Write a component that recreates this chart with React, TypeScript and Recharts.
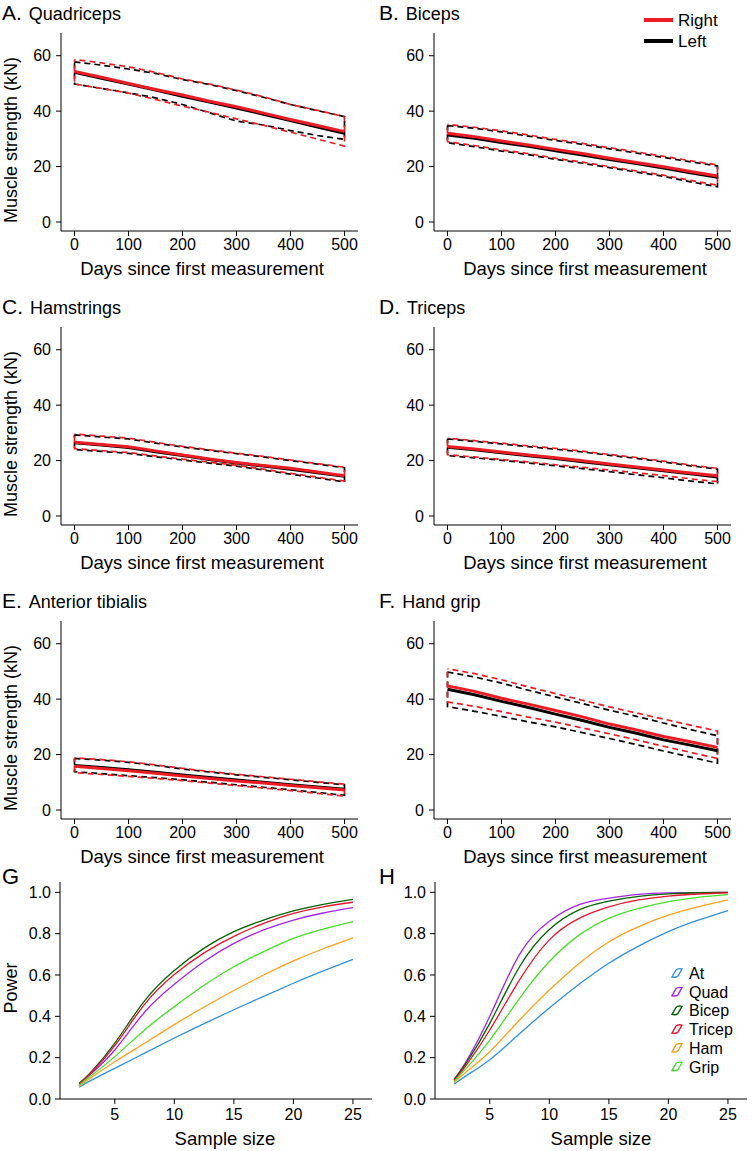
import React from 'react';
import { LineChart, Line, XAxis, YAxis } from 'recharts';

const FONT = '"Liberation Sans", Arial, Helvetica, sans-serif';
const RED = '#ec1c24';
const BLACK = '#000000';

// ---------- Strength panels (A–F) ----------
const days = [0, 50, 100, 150, 200, 250, 300, 350, 400, 450, 500];
const dayTicks = [0, 100, 200, 300, 400, 500];
const strengthTicks = [0, 20, 40, 60];

const quadRight = [54.3, 52.2, 50.0, 47.8, 45.8, 43.6, 41.6, 39.3, 37.0, 34.8, 32.6];
const quadLeft = [54.0, 51.9, 49.8, 47.6, 45.4, 43.3, 41.1, 38.9, 36.6, 34.3, 32.0];
const quadRightHi = [58.6, 57.4, 56.0, 54.0, 51.6, 49.8, 47.6, 45.2, 42.4, 40.3, 38.0];
const quadRightLo = [49.8, 48.2, 46.5, 44.2, 41.8, 39.6, 37.2, 34.9, 32.4, 29.9, 27.4];
const quadLeftHi = [57.8, 56.6, 55.2, 53.6, 51.4, 49.6, 47.4, 45.0, 42.4, 40.2, 38.0];
const quadLeftLo = [49.8, 48.2, 46.6, 44.8, 42.4, 39.4, 36.4, 35.0, 33.0, 31.2, 29.8];

const biRight = [32.0, 30.8, 29.2, 27.8, 26.2, 24.7, 23.0, 21.5, 19.9, 18.2, 16.6];
const biLeft = [31.4, 30.2, 28.7, 27.3, 25.7, 24.2, 22.5, 21.1, 19.5, 17.8, 16.1];
const biRightHi = [35.2, 34.2, 32.9, 31.4, 29.8, 28.4, 26.8, 25.3, 23.7, 22.1, 20.6];
const biRightLo = [29.0, 27.6, 26.0, 24.7, 23.0, 21.6, 20.0, 18.4, 16.9, 15.0, 13.3];
const biLeftHi = [34.8, 33.8, 32.5, 31.0, 29.4, 28.0, 26.4, 24.9, 23.3, 21.7, 20.2];
const biLeftLo = [28.6, 27.2, 25.6, 24.3, 22.6, 21.2, 19.6, 18.0, 16.5, 14.5, 12.7];

const hamRight = [26.6, 25.8, 25.0, 23.5, 22.0, 20.6, 19.3, 18.2, 17.2, 15.9, 14.5];
const hamLeft = [26.4, 25.6, 24.7, 23.2, 21.8, 20.4, 19.1, 18.0, 16.9, 15.6, 14.3];
const hamRightHi = [29.6, 28.8, 28.1, 26.6, 25.1, 23.9, 22.7, 21.5, 20.2, 18.9, 17.6];
const hamRightLo = [24.3, 23.6, 22.9, 21.7, 20.5, 19.4, 18.3, 16.9, 15.4, 14.0, 12.6];
const hamLeftHi = [29.3, 28.5, 27.8, 26.3, 24.9, 23.7, 22.5, 21.3, 20.0, 18.7, 17.4];
const hamLeftLo = [24.0, 23.3, 22.6, 21.4, 20.2, 19.1, 18.0, 16.6, 15.1, 13.7, 12.3];

const triRight = [25.1, 24.2, 23.1, 22.0, 21.0, 19.9, 18.8, 17.7, 16.6, 15.5, 14.5];
const triLeft = [24.8, 23.9, 22.8, 21.7, 20.7, 19.6, 18.5, 17.4, 16.3, 15.2, 14.1];
const triRightHi = [28.1, 27.2, 26.3, 25.3, 24.4, 23.4, 22.2, 21.1, 19.8, 18.4, 17.2];
const triRightLo = [22.1, 21.3, 20.4, 19.5, 18.5, 17.6, 16.6, 15.6, 14.6, 13.4, 12.4];
const triLeftHi = [27.8, 26.9, 26.0, 25.0, 24.1, 23.1, 21.9, 20.8, 19.5, 18.1, 16.9];
const triLeftLo = [21.8, 21.0, 20.1, 19.1, 18.1, 17.1, 16.0, 14.9, 13.8, 12.6, 11.6];

const atRight = [15.8, 15.0, 14.2, 13.3, 12.3, 11.4, 10.5, 9.7, 8.8, 8.0, 7.2];
const atLeft = [16.1, 15.3, 14.5, 13.6, 12.6, 11.7, 10.8, 10.0, 9.1, 8.3, 7.5];
const atRightHi = [18.8, 18.2, 17.4, 16.3, 15.0, 13.9, 12.9, 12.0, 11.1, 10.2, 9.3];
const atRightLo = [13.5, 12.8, 12.1, 11.4, 10.6, 9.7, 8.8, 7.9, 7.0, 6.0, 5.0];
const atLeftHi = [18.6, 18.0, 17.2, 16.1, 14.8, 13.7, 12.7, 11.8, 10.9, 10.0, 9.1];
const atLeftLo = [13.8, 13.1, 12.4, 11.7, 10.9, 10.0, 9.1, 8.2, 7.3, 6.3, 5.3];

const gripRight = [44.8, 42.8, 40.3, 38.2, 35.9, 33.6, 31.0, 28.9, 26.5, 24.6, 22.6];
const gripLeft = [43.6, 41.6, 39.2, 37.0, 34.6, 32.3, 29.8, 27.7, 25.3, 23.4, 21.4];
const gripRightHi = [51.0, 49.2, 47.0, 44.4, 42.0, 39.6, 37.2, 35.0, 32.8, 30.6, 28.5];
const gripRightLo = [39.0, 37.4, 35.5, 33.5, 31.7, 29.6, 27.5, 25.3, 23.0, 20.8, 18.6];
const gripLeftHi = [49.8, 48.0, 45.8, 43.2, 40.8, 38.4, 36.0, 33.8, 31.4, 29.0, 26.8];
const gripLeftLo = [37.3, 35.6, 33.8, 31.8, 30.0, 27.9, 25.8, 23.6, 21.3, 19.1, 16.9];

// ---------- Power panels (G, H) ----------
const sampleSizes = [2, 3, 5, 7.5, 10, 12.5, 15, 17.5, 20, 22.5, 25];
const sampleTicks = [5, 10, 15, 20, 25];
const powerTicks = [0, 0.2, 0.4, 0.6, 0.8, 1.0];

const gAt = [0.057, 0.09, 0.148, 0.222, 0.295, 0.365, 0.432, 0.497, 0.56, 0.62, 0.676];
const gQuad = [0.07, 0.122, 0.237, 0.42, 0.555, 0.665, 0.753, 0.818, 0.866, 0.9, 0.926];
const gBicep = [0.076, 0.13, 0.27, 0.475, 0.622, 0.73, 0.81, 0.866, 0.91, 0.942, 0.966];
const gTricep = [0.072, 0.126, 0.258, 0.458, 0.602, 0.707, 0.787, 0.85, 0.898, 0.93, 0.952];
const gHam = [0.062, 0.103, 0.18, 0.27, 0.36, 0.445, 0.525, 0.6, 0.668, 0.727, 0.78];
const gGrip = [0.066, 0.112, 0.205, 0.334, 0.447, 0.55, 0.64, 0.713, 0.777, 0.822, 0.858];

const hAt = [0.071, 0.112, 0.19, 0.316, 0.44, 0.555, 0.657, 0.74, 0.81, 0.865, 0.912];
const hQuad = [0.095, 0.18, 0.4, 0.7, 0.86, 0.94, 0.972, 0.99, 0.997, 0.999, 1.0];
const hBicep = [0.092, 0.172, 0.366, 0.64, 0.82, 0.915, 0.957, 0.98, 0.993, 0.998, 1.0];
const hTricep = [0.089, 0.162, 0.334, 0.576, 0.77, 0.874, 0.93, 0.963, 0.982, 0.992, 0.998];
const hHam = [0.079, 0.13, 0.229, 0.382, 0.527, 0.656, 0.76, 0.834, 0.89, 0.93, 0.963];
const hGrip = [0.084, 0.147, 0.285, 0.487, 0.665, 0.793, 0.874, 0.922, 0.955, 0.976, 0.989];

const muscleNames = ['At', 'Quad', 'Bicep', 'Tricep', 'Ham', 'Grip'];
const muscleColors = ['#2f8fe0', '#a424ee', '#006400', '#e8122e', '#ffa11a', '#47e02a'];

const tickStyle = { fill: '#000', fontSize: 16, fontFamily: FONT };
const axisLineStyle = { stroke: '#000', strokeWidth: 1 };

const toPoints = (xs: number[], ys: number[]) => xs.map((x, i) => ({ x, y: ys[i] }));
const bandOutline = (lo: number[], hi: number[]) => [
  ...toPoints(days, hi),
  ...toPoints(days, lo).reverse(),
  { x: days[0], y: hi[0] },
];

type StrengthProps = {
  col: number; row: number;
  right: number[]; left: number[];
  rightHi: number[]; rightLo: number[];
  leftHi: number[]; leftLo: number[];
};

function StrengthPanel(p: StrengthProps) {
  return (
    <div style={{ position: 'absolute', left: p.col * 373, top: p.row * 294 }}>
      <LineChart width={376} height={294} margin={{ top: 33, right: 18, bottom: 33, left: 21 }}>
        <XAxis type="number" dataKey="x" domain={[-25, 525]} ticks={dayTicks} height={30}
          tick={tickStyle} tickSize={5} tickMargin={3} axisLine={axisLineStyle} tickLine={axisLineStyle}
          allowDataOverflow />
        <YAxis type="number" dataKey="y" domain={[-3.25, 68.2]} ticks={strengthTicks} width={40}
          tick={tickStyle} tickSize={5} tickMargin={5} axisLine={axisLineStyle} tickLine={axisLineStyle}
          allowDataOverflow />
        <Line data={bandOutline(p.leftLo, p.leftHi)} dataKey="y" name="Left CI" type="linear"
          stroke={BLACK} strokeWidth={1.7} strokeDasharray="6 4" dot={false} isAnimationActive={false} />
        <Line data={bandOutline(p.rightLo, p.rightHi)} dataKey="y" name="Right CI" type="linear"
          stroke={RED} strokeWidth={1.7} strokeDasharray="6 4" strokeDashoffset={5} dot={false} isAnimationActive={false} />
        <Line data={toPoints(days, p.left)} dataKey="y" name="Left" type="linear"
          stroke={BLACK} strokeWidth={3} dot={false} isAnimationActive={false} />
        <Line data={toPoints(days, p.right)} dataKey="y" name="Right" type="linear"
          stroke={RED} strokeWidth={3} dot={false} isAnimationActive={false} />
      </LineChart>
    </div>
  );
}

function PowerPanel({ col, series }: { col: number; series: number[][] }) {
  return (
    <div style={{ position: 'absolute', left: col * 375, top: 860 }}>
      <LineChart width={376} height={291} margin={{ top: 22, right: 4, bottom: 22, left: 20 }}>
        <XAxis type="number" dataKey="x" domain={[0.4, 26.6]} ticks={sampleTicks} height={30}
          tick={tickStyle} tickSize={5} tickMargin={5} axisLine={axisLineStyle} tickLine={axisLineStyle}
          allowDataOverflow />
        <YAxis type="number" dataKey="y" domain={[0, 1.05]} ticks={powerTicks} width={40}
          tickFormatter={(v: number) => v.toFixed(1)}
          tick={tickStyle} tickSize={5} tickMargin={4} axisLine={axisLineStyle} tickLine={axisLineStyle}
          allowDataOverflow />
        {series.map((ys, i) => (
          <Line key={muscleNames[i]} data={toPoints(sampleSizes, ys)} dataKey="y" name={muscleNames[i]}
            type="natural" stroke={muscleColors[i]} strokeWidth={1.3} dot={false} isAnimationActive={false} />
        ))}
      </LineChart>
    </div>
  );
}

const panelTitles = [
  { letter: 'A.', name: 'Quadriceps', col: 0, row: 0 },
  { letter: 'B.', name: 'Biceps', col: 1, row: 0 },
  { letter: 'C.', name: 'Hamstrings', col: 0, row: 1 },
  { letter: 'D.', name: 'Triceps', col: 1, row: 1 },
  { letter: 'E.', name: 'Anterior tibialis', col: 0, row: 2 },
  { letter: 'F.', name: 'Hand grip', col: 1, row: 2 },
];

function Overlay() {
  return (
    <svg width={752} height={1151} style={{ position: 'absolute', left: 0, top: 0, pointerEvents: 'none' }}
      fontFamily={FONT}>
      {panelTitles.map((t) => (
        <text key={t.letter} x={t.col === 0 ? 2 : 379} y={19.5 + t.row * 294} fill="#000">
          <tspan fontSize={21}>{t.letter}</tspan>
          <tspan fontSize={18} dx={7}>{t.name}</tspan>
        </text>
      ))}
      {[0, 1, 2].map((r) => (
        <text key={'yt' + r} transform={`translate(16.5,${140 + r * 294}) rotate(-90)`} textAnchor="middle"
          fontSize={18} fill="#000">Muscle strength (kN)</text>
      ))}
      {[0, 1, 2].map((r) =>
        [0, 1].map((c) => (
          <text key={'xt' + r + c} x={c === 0 ? 202 : 585} y={275 + r * 294} textAnchor="middle"
            fontSize={18.5} fill="#000">Days since first measurement</text>
        ))
      )}
      {/* Right / Left legend in B */}
      <line x1={644} x2={673} y1={20} y2={20} stroke={RED} strokeWidth={4} />
      <text x={678} y={26} fontSize={17} fill="#000">Right</text>
      <line x1={644} x2={673} y1={41} y2={41} stroke={BLACK} strokeWidth={4} />
      <text x={678} y={47} fontSize={17} fill="#000">Left</text>

      {/* G / H */}
      <text x={2} y={884} fontSize={22} fill="#000">G</text>
      <text x={379} y={884} fontSize={22} fill="#000">H</text>
      <text transform="translate(16.5,988) rotate(-90)" textAnchor="middle" fontSize={18} fill="#000">Power</text>
      <text x={225} y={1145} textAnchor="middle" fontSize={18.5} fill="#000">Sample size</text>
      <text x={601} y={1145} textAnchor="middle" fontSize={18.5} fill="#000">Sample size</text>

      {muscleNames.map((m, i) => {
        const cy = 973 + i * 18.7;
        const cx = 677;
        const d = `M${cx - 5},${cy + 4} L${cx - 1},${cy - 3} Q${cx + 1},${cy - 5} ${cx + 5},${cy - 4} L${cx + 1},${cy + 3} Q${cx - 1},${cy + 5} ${cx - 5},${cy + 4} Z`;
        return (
          <g key={m}>
            <path d={d} fill="#fff" stroke={muscleColors[i]} strokeWidth={1.4} />
            <text x={689} y={cy + 6} fontSize={16} fill="#000">{m}</text>
          </g>
        );
      })}
    </svg>
  );
}

export default function App() {
  return (
    <div style={{ position: 'absolute', left: 0, top: 0, width: 752, height: 1151, background: '#fff', fontFamily: FONT }}>
      <StrengthPanel col={0} row={0} right={quadRight} left={quadLeft} rightHi={quadRightHi} rightLo={quadRightLo} leftHi={quadLeftHi} leftLo={quadLeftLo} />
      <StrengthPanel col={1} row={0} right={biRight} left={biLeft} rightHi={biRightHi} rightLo={biRightLo} leftHi={biLeftHi} leftLo={biLeftLo} />
      <StrengthPanel col={0} row={1} right={hamRight} left={hamLeft} rightHi={hamRightHi} rightLo={hamRightLo} leftHi={hamLeftHi} leftLo={hamLeftLo} />
      <StrengthPanel col={1} row={1} right={triRight} left={triLeft} rightHi={triRightHi} rightLo={triRightLo} leftHi={triLeftHi} leftLo={triLeftLo} />
      <StrengthPanel col={0} row={2} right={atRight} left={atLeft} rightHi={atRightHi} rightLo={atRightLo} leftHi={atLeftHi} leftLo={atLeftLo} />
      <StrengthPanel col={1} row={2} right={gripRight} left={gripLeft} rightHi={gripRightHi} rightLo={gripRightLo} leftHi={gripLeftHi} leftLo={gripLeftLo} />
      <PowerPanel col={0} series={[gAt, gQuad, gBicep, gTricep, gHam, gGrip]} />
      <PowerPanel col={1} series={[hAt, hQuad, hBicep, hTricep, hHam, hGrip]} />
      <Overlay />
    </div>
  );
}
